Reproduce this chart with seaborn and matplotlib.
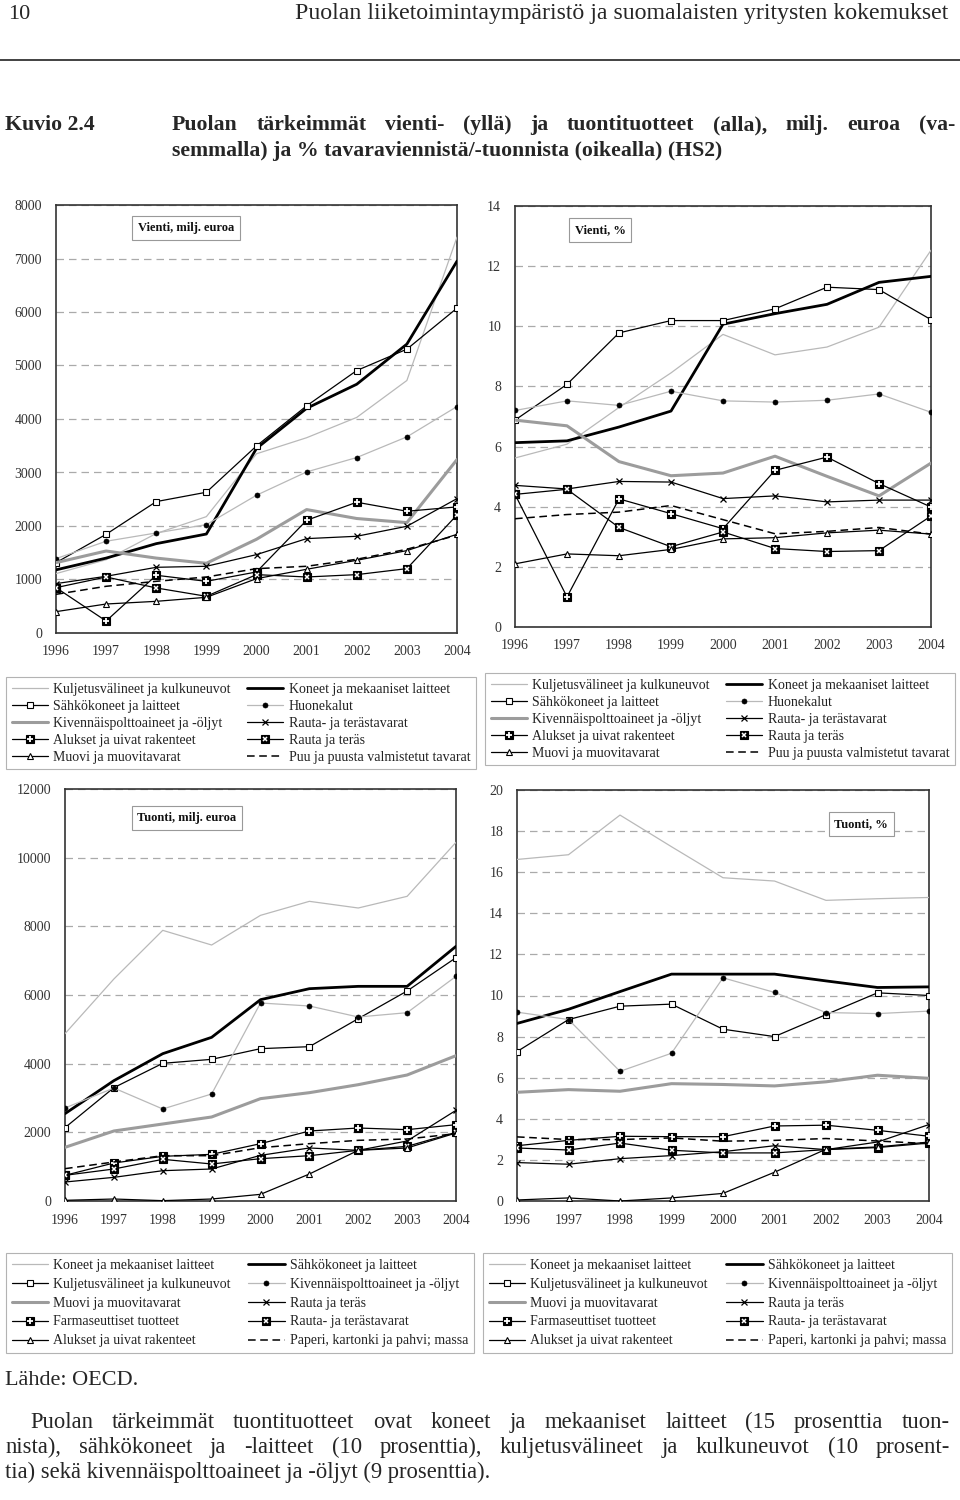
import matplotlib
matplotlib.use("Agg")
import matplotlib.pyplot as plt
from matplotlib.lines import Line2D
import seaborn as sns
import pandas as pd

W, H = 960, 1500

years = [1996, 1997, 1998, 1999, 2000, 2001, 2002, 2003, 2004]
year_labels = [str(y) for y in years]

# legend labels, in the order the series are drawn (slot order)
vienti_labels = ["Kuljetusvälineet ja kulkuneuvot", "Koneet ja mekaaniset laitteet",
                 "Sähkökoneet ja laitteet", "Huonekalut",
                 "Kivennäispolttoaineet ja -öljyt", "Rauta- ja terästavarat",
                 "Alukset ja uivat rakenteet", "Rauta ja teräs",
                 "Muovi ja muovitavarat", "Puu ja puusta valmistetut tavarat"]
tuonti_labels = ["Koneet ja mekaaniset laitteet", "Sähkökoneet ja laitteet",
                 "Kuljetusvälineet ja kulkuneuvot", "Kivennäispolttoaineet ja -öljyt",
                 "Muovi ja muovitavarat", "Rauta ja teräs",
                 "Farmaseuttiset tuotteet", "Rauta- ja terästavarat",
                 "Alukset ja uivat rakenteet", "Paperi, kartonki ja pahvi; massa"]

# Vienti, milj. euroa
ve_kuljetus = [1110, 1370, 1860, 2175, 3350, 3650, 4030, 4720, 7400]
ve_koneet = [1180, 1400, 1670, 1850, 3450, 4200, 4650, 5400, 6950]
ve_sahko = [1315, 1845, 2456, 2631, 3497, 4246, 4906, 5305, 6072]
ve_huonekalut = [1390, 1715, 1870, 2026, 2575, 3011, 3280, 3666, 4233]
ve_kivennais = [1315, 1533, 1400, 1303, 1752, 2307, 2140, 2063, 3242]
ve_terastavarat = [923, 1060, 1228, 1247, 1465, 1764, 1808, 1995, 2512]
ve_alukset = [848, 224, 1079, 966, 1141, 2107, 2444, 2276, 2357]
ve_rauta_teras = [848, 1047, 842, 686, 1091, 1047, 1091, 1203, 2207]
ve_muovi = [399, 542, 592, 667, 1016, 1191, 1359, 1540, 1845]
ve_puu = [723, 873, 966, 1047, 1203, 1247, 1378, 1565, 1830]

# Vienti, %
vp_kuljetus = [5.62, 6.08, 7.3, 8.45, 9.73, 9.05, 9.31, 9.97, 12.53]
vp_koneet = [6.13, 6.19, 6.65, 7.18, 10.07, 10.42, 10.73, 11.46, 11.66]
vp_sahko = [6.88, 8.07, 9.78, 10.19, 10.19, 10.58, 11.30, 11.22, 10.22]
vp_huonekalut = [7.20, 7.52, 7.37, 7.84, 7.52, 7.48, 7.54, 7.75, 7.14]
vp_kivennais = [6.88, 6.69, 5.50, 5.03, 5.12, 5.68, 5.01, 4.36, 5.45]
vp_terastavarat = [4.71, 4.59, 4.84, 4.82, 4.27, 4.36, 4.16, 4.22, 4.22]
vp_alukset = [4.41, 1.00, 4.26, 3.77, 3.27, 5.21, 5.65, 4.77, 3.99]
vp_rauta_teras = [4.41, 4.58, 3.31, 2.67, 3.16, 2.61, 2.51, 2.54, 3.69]
vp_muovi = [2.10, 2.43, 2.37, 2.58, 2.93, 2.97, 3.13, 3.22, 3.09]
vp_puu = [3.60, 3.74, 3.82, 4.04, 3.57, 3.10, 3.18, 3.31, 3.09]

# Tuonti, milj. euroa
te_koneet = [4874, 6466, 7883, 7456, 8320, 8728, 8534, 8874, 10447]
te_sahko = [2544, 3505, 4291, 4767, 5864, 6184, 6252, 6252, 7417]
te_kuljetus = [2136, 3301, 4010, 4126, 4437, 4495, 5311, 6117, 7087]
te_kivennais = [2709, 3291, 2680, 3117, 5767, 5680, 5359, 5485, 6544]
te_muovi = [1563, 2039, 2243, 2447, 2981, 3155, 3388, 3670, 4233]
te_rauta_teras = [553, 689, 883, 932, 1330, 1544, 1476, 1748, 2641]
te_farma = [748, 1107, 1301, 1359, 1670, 2039, 2126, 2078, 2223]
te_terastavarat = [748, 932, 1214, 1078, 1233, 1320, 1476, 1592, 2000]
te_alukset = [20, 58, 10, 58, 194, 786, 1476, 1544, 1981]
te_paperi = [942, 1136, 1320, 1320, 1553, 1670, 1767, 1806, 1961]

# Tuonti, %
tp_koneet = [16.62, 16.85, 18.78, 17.24, 15.73, 15.57, 14.63, 14.71, 14.77]
tp_sahko = [8.64, 9.33, 10.19, 11.04, 11.04, 11.04, 10.71, 10.39, 10.42]
tp_kuljetus = [7.27, 8.83, 9.48, 9.58, 8.36, 8.00, 9.07, 10.13, 10.00]
tp_kivennais = [9.19, 8.83, 6.31, 7.19, 10.86, 10.15, 9.17, 9.12, 9.24]
tp_muovi = [5.29, 5.42, 5.34, 5.71, 5.67, 5.60, 5.80, 6.12, 5.97]
tp_rauta_teras = [1.87, 1.79, 2.06, 2.21, 2.40, 2.69, 2.50, 2.87, 3.72]
tp_farma = [2.69, 2.95, 3.15, 3.13, 3.13, 3.65, 3.69, 3.44, 3.15]
tp_terastavarat = [2.58, 2.48, 2.82, 2.47, 2.34, 2.34, 2.50, 2.60, 2.82]
tp_alukset = [0.05, 0.15, 0.0, 0.15, 0.37, 1.40, 2.52, 2.63, 2.87]
tp_paperi = [3.12, 2.99, 2.99, 3.07, 2.91, 2.95, 3.04, 2.92, 2.79]

sns.set_theme(style="white")
plt.rcParams["font.family"] = ["Liberation Serif", "DejaVu Serif"]

LIGHT = "#b9b9b9"
MID = "#9c9c9c"
# one style per legend slot (same for both legends)
slot_styles = [
    dict(color=LIGHT, lw=0.9),
    dict(color="black", lw=2.0),
    dict(color="black", lw=0.9, marker="s", ms=4.2, mfc="white", mec="black", mew=0.8),
    dict(color=LIGHT, lw=0.9, marker="o", ms=3.6, mfc="black", mec="black", mew=0.5),
    dict(color=MID, lw=2.2),
    dict(color="black", lw=0.9, marker="x", ms=5, mec="black", mew=0.9),
    dict(color="black", lw=0.9, marker="s", ms=6, mfc="black", mec="black", mew=0.8),
    dict(color="black", lw=0.9, marker="s", ms=6, mfc="black", mec="black", mew=0.8),
    dict(color="black", lw=0.9, marker="^", ms=4.6, mfc="white", mec="black", mew=0.8),
    dict(color="black", lw=1.1, ls=(0, (5, 3))),
]
overlay_marks = {6: dict(marker="+", ms=4.2, mec="white", mew=1.3),
                 7: dict(marker="x", ms=3.4, mec="white", mew=1.1)}

fig = plt.figure(figsize=(W / 100, H / 100), dpi=100)


def px_axes(x0, y0, x1, y1):
    return fig.add_axes([x0 / W, 1 - y1 / H, (x1 - x0) / W, (y1 - y0) / H])


def draw_panel(ax, series, ymax, ystep, label, label_xy):
    for i, vals in enumerate(series):
        df = pd.DataFrame({"year": years, "value": vals})
        sns.lineplot(data=df, x="year", y="value", ax=ax, errorbar=None,
                     zorder=3 + i * 0.1, **slot_styles[i])
        if i in overlay_marks:
            sns.lineplot(data=df, x="year", y="value", ax=ax, errorbar=None,
                         ls="none", zorder=3.05 + i * 0.1, **overlay_marks[i])
    ax.set_xlim(years[0], years[-1])
    ax.set_ylim(0, ymax)
    ax.set_xticks(years)
    ax.set_xticklabels(year_labels)
    ax.set_yticks(range(0, ymax + 1, ystep))
    ax.set_xlabel("")
    ax.set_ylabel("")
    ax.tick_params(axis="x", direction="in", length=4, width=0.8, color="#444",
                   labelsize=10, labelcolor="#333", pad=9)
    ax.tick_params(axis="y", length=0, labelsize=10, labelcolor="#333", pad=10)
    ax.yaxis.grid(True, color="#aaaaaa", lw=0.9, ls=(0, (6, 4)))
    ax.xaxis.grid(False)
    for sp in ax.spines.values():
        sp.set_color("#333")
        sp.set_linewidth(1.2)
        sp.set_visible(True)
    fig.text(label_xy[0] / W, 1 - label_xy[1] / H, label, ha="center", va="center",
             fontsize=9, fontweight="bold", color="#111",
             bbox=dict(boxstyle="square,pad=0.45", fc="white", ec="#999", lw=0.8))


def legend_handles():
    hs = []
    for i, st in enumerate(slot_styles):
        base = Line2D([], [], **st)
        if i in overlay_marks:
            hs.append((base, Line2D([], [], ls="none", **overlay_marks[i])))
        else:
            hs.append(base)
    return hs


def add_legend(labels, x0, y0, x1, spacing):
    hs = legend_handles()
    order = [0, 2, 4, 6, 8, 1, 3, 5, 7, 9]
    leg = fig.legend([hs[i] for i in order], [labels[i] for i in order],
                     loc="upper left", bbox_to_anchor=(x0 / W, 1 - y0 / H, (x1 - x0) / W, 0),
                     mode="expand", ncol=2, fontsize=10, frameon=True, fancybox=False,
                     edgecolor="#a0a0a0", handlelength=2.6, handletextpad=0.4,
                     labelspacing=spacing, borderaxespad=0, borderpad=0.4)
    leg.get_frame().set_linewidth(0.8)
    for t in leg.get_texts():
        t.set_color("#222")


ax1 = px_axes(56, 205, 457, 633)
draw_panel(ax1, [ve_kuljetus, ve_koneet, ve_sahko, ve_huonekalut, ve_kivennais,
                 ve_terastavarat, ve_alukset, ve_rauta_teras, ve_muovi, ve_puu],
           8000, 1000, "Vienti, milj. euroa", (186, 228))

ax2 = px_axes(515, 206, 931, 627)
draw_panel(ax2, [vp_kuljetus, vp_koneet, vp_sahko, vp_huonekalut, vp_kivennais,
                 vp_terastavarat, vp_alukset, vp_rauta_teras, vp_muovi, vp_puu],
           14, 2, "Vienti, %", (600, 230))

ax3 = px_axes(65, 789, 456, 1201)
draw_panel(ax3, [te_koneet, te_sahko, te_kuljetus, te_kivennais, te_muovi,
                 te_rauta_teras, te_farma, te_terastavarat, te_alukset, te_paperi],
           12000, 2000, "Tuonti, milj. euroa", (187, 818))

ax4 = px_axes(517, 790, 929, 1201)
draw_panel(ax4, [tp_koneet, tp_sahko, tp_kuljetus, tp_kivennais, tp_muovi,
                 tp_rauta_teras, tp_farma, tp_terastavarat, tp_alukset, tp_paperi],
           20, 2, "Tuonti, %", (861, 824))

add_legend(vienti_labels, 6, 677, 476, 0.29)
add_legend(vienti_labels, 485, 673, 955, 0.29)
add_legend(tuonti_labels, 6, 1253, 474, 0.43)
add_legend(tuonti_labels, 483, 1253, 952, 0.43)

# page header and texts
fig.text(8 / W, 1 - 19 / H, "10", ha="left", va="baseline", fontsize=16)
fig.text(948 / W, 1 - 19 / H, "Puolan liiketoimintaympäristö ja suomalaisten yritysten kokemukset",
         ha="right", va="baseline", fontsize=17.2)
fig.add_artist(Line2D([0, 1], [1 - 60 / H] * 2, transform=fig.transFigure,
                      color="#333", lw=1.3))
fig.text(5 / W, 1 - 130 / H, "Kuvio 2.4", ha="left", va="baseline", fontsize=15.7,
         fontweight="bold")

renderer = fig.canvas.get_renderer()


def justified(text, x0, x1, y, **kw):
    # spread the words of one line between x0 and x1, y is the baseline
    words = text.split(" ")
    ts = [fig.text(0, 1 - y / H, w, ha="left", va="baseline", **kw) for w in words]
    widths = [t.get_window_extent(renderer).width for t in ts]
    gap = (x1 - x0 - sum(widths)) / (len(words) - 1)
    x = x0
    for t, w in zip(ts, widths):
        t.set_x(x / W)
        x += w + gap


justified("Puolan tärkeimmät vienti- (yllä) ja tuontituotteet (alla), milj. euroa (va-",
          172, 955, 130, fontsize=15.7, fontweight="bold")
fig.text(172 / W, 1 - 156 / H, "semmalla) ja % tavaraviennistä/-tuonnista (oikealla) (HS2)",
         ha="left", va="baseline", fontsize=15.7, fontweight="bold")

fig.text(5 / W, 1 - 1385 / H, "Lähde: OECD.", ha="left", va="baseline", fontsize=16)
justified("Puolan tärkeimmät tuontituotteet ovat koneet ja mekaaniset laitteet (15 prosenttia tuon-",
          30, 950, 1428, fontsize=16.3)
justified("nista), sähkökoneet ja -laitteet (10 prosenttia), kuljetusvälineet ja kulkuneuvot (10 prosent-",
          5, 950, 1453, fontsize=16.3)
fig.text(5 / W, 1 - 1478 / H, "tia) sekä kivennäispolttoaineet ja -öljyt (9 prosenttia).",
         ha="left", va="baseline", fontsize=16.3)

fig.savefig("out.png", dpi=100)
